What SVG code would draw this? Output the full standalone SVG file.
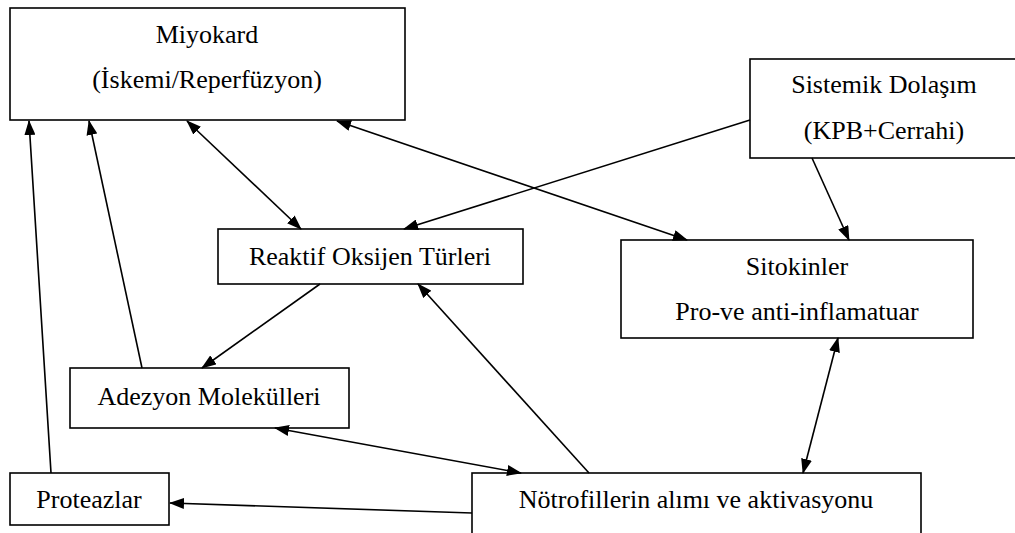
<svg xmlns="http://www.w3.org/2000/svg" width="1015" height="533" viewBox="0 0 1015 533">
<style>
.box{fill:#fff;stroke:#000;stroke-width:1.6}
.t{font-family:"Liberation Serif","Times New Roman",serif;font-size:26px;fill:#000;text-anchor:middle}
.c{stroke:#000;stroke-width:1.6;fill:none}
.a{marker-end:url(#ah)}
.b{marker-start:url(#ah);marker-end:url(#ah)}
</style>
<defs>
<marker id="ah" markerUnits="userSpaceOnUse" markerWidth="15" markerHeight="11" refX="14" refY="5.5" orient="auto-start-reverse">
<path d="M0,0 L15,5.5 L0,11 z" fill="#000"/>
</marker>
</defs>
<rect width="1015" height="533" fill="#fff"/>
<g id="n-miyokard"><rect class="box" x="10" y="8" width="395" height="112"/><text class="t" x="207" y="43">Miyokard</text><text class="t" x="207" y="88">(İskemi/Reperfüzyon)</text></g>
<g id="n-sistemik"><rect class="box" x="750" y="59" width="280" height="99"/><text class="t" x="884" y="93">Sistemik Dolaşım</text><text class="t" x="884" y="139">(KPB+Cerrahi)</text></g>
<g id="n-reaktif"><rect class="box" x="218" y="229" width="305" height="55"/><text class="t" x="370" y="265">Reaktif Oksijen Türleri</text></g>
<g id="n-sitokinler"><rect class="box" x="621" y="240" width="352" height="98"/><text class="t" x="797" y="275">Sitokinler</text><text class="t" x="797" y="320">Pro-ve anti-inflamatuar</text></g>
<g id="n-adezyon"><rect class="box" x="70" y="368" width="279" height="60"/><text class="t" x="209" y="405">Adezyon Molekülleri</text></g>
<g id="n-proteazlar"><rect class="box" x="10" y="473" width="159" height="52"/><text class="t" x="89" y="508">Proteazlar</text></g>
<g id="n-notrofil"><rect class="box" x="472" y="473" width="449" height="80"/><text class="t" x="696" y="508">Nötrofillerin alımı ve aktivasyonu</text></g>
<g id="connectors">
<line class="c a" x1="51" y1="473" x2="29" y2="121"/>
<line class="c a" x1="142" y1="368" x2="89" y2="121"/>
<line class="c b" x1="187" y1="121" x2="301" y2="229"/>
<line class="c b" x1="337" y1="121" x2="687" y2="240"/>
<line class="c a" x1="750" y1="120" x2="404" y2="229"/>
<line class="c a" x1="812" y1="158" x2="849" y2="240"/>
<line class="c a" x1="320" y1="284" x2="202" y2="368"/>
<line class="c a" x1="589" y1="473" x2="418" y2="284"/>
<line class="c b" x1="275" y1="428" x2="521" y2="473"/>
<line class="c a" x1="472" y1="513" x2="170" y2="503"/>
<line class="c b" x1="838" y1="338" x2="803" y2="473"/>
</g>
</svg>
